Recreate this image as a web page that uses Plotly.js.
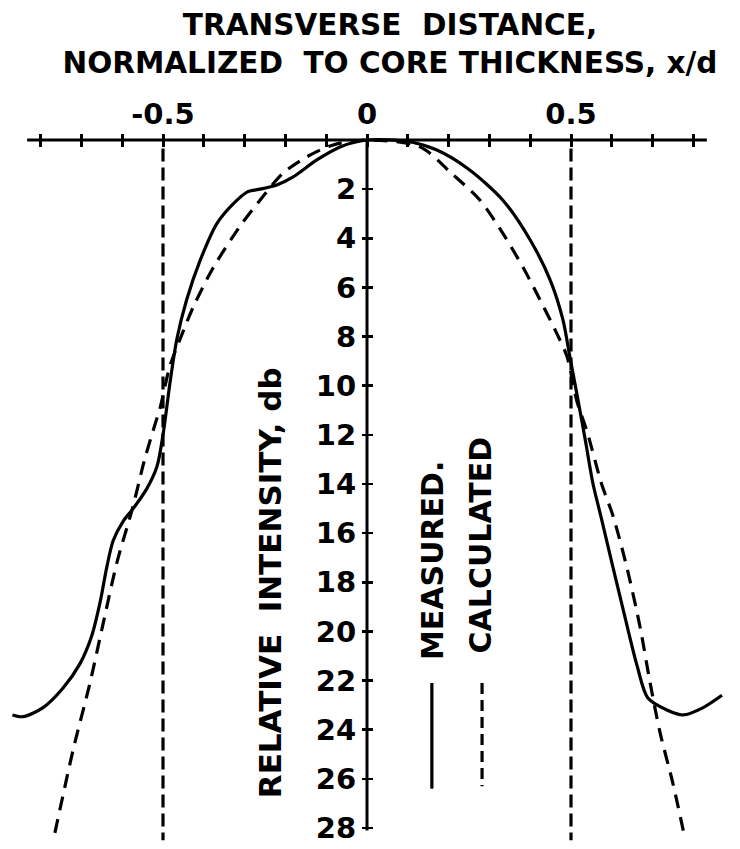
<!DOCTYPE html>
<html>
<head>
<meta charset="utf-8">
<script src="https://cdn.plot.ly/plotly-3.0.1.min.js"></script>
<style>html,body{margin:0;padding:0;background:#fff;}#chart{width:740px;height:849px;}</style>
</head>
<body>
<div id="chart"></div>
<script>
// ---- data (x/d, relative intensity in db) ----
const measuredX = [-0.869, -0.843, -0.794, -0.745, -0.703, -0.675, -0.654, -0.638, -0.622, -0.597, -0.573, -0.54, -0.515, -0.5, -0.483, -0.466, -0.442, -0.409, -0.368, -0.328, -0.292, -0.262, -0.221, -0.181, -0.123, -0.066, 0, 0.105, 0.17, 0.25, 0.333, 0.40, 0.449, 0.48, 0.497, 0.514, 0.536, 0.554, 0.573, 0.603, 0.632, 0.662, 0.688, 0.735, 0.775, 0.824, 0.87];
const measuredY = [23.4, 23.47, 23.1, 22.3, 21.3, 20.2, 18.8, 17.4, 16.3, 15.5, 15.0, 14.2, 13.3, 12.0, 9.9, 8.1, 6.5, 4.9, 3.4, 2.6, 2.1, 2.0, 1.83, 1.5, 0.81, 0.28, 0, 0.07, 0.4, 1.2, 2.45, 4.07, 5.7, 7.3, 8.8, 10.3, 12.3, 14.0, 15.3, 17.4, 19.4, 21.4, 22.7, 23.2, 23.4, 23.1, 22.6];
const calculatedX = [-0.765, -0.72, -0.679, -0.647, -0.613, -0.575, -0.545, -0.52, -0.507, -0.483, -0.458, -0.426, -0.377, -0.311, -0.255, -0.206, -0.147, -0.083, 0, 0.13, 0.21, 0.277, 0.333, 0.383, 0.424, 0.466, 0.49, 0.514, 0.54, 0.575, 0.603, 0.637, 0.669, 0.694, 0.718, 0.75, 0.779];
const calculatedY = [28.2, 24.8, 22.1, 19.7, 17.2, 15.0, 13.0, 11.6, 10.9, 9.2, 8.1, 6.8, 5.2, 3.5, 2.3, 1.35, 0.68, 0.2, 0, 0.28, 1.4, 2.45, 3.8, 5.2, 6.5, 7.9, 8.8, 10.6, 11.9, 14.0, 15.3, 17.4, 19.8, 22.1, 24.1, 26.2, 28.4];
const coreEdgesX = [-0.5, 0.5];
const coreEdgeSpanY = [0.35, 28.5];
const xTickValues = [-0.8, -0.7, -0.6, -0.5, -0.4, -0.3, -0.2, -0.1, 0, 0.1, 0.2, 0.3, 0.4, 0.5, 0.6, 0.7, 0.8];
const xTickLabels = ['', '', '', '-0.5', '', '', '', '', '0', '', '', '', '', '0.5', '', '', ''];
const yTickValues = [2, 4, 6, 8, 10, 12, 14, 16, 18, 20, 22, 24, 26, 28];
const yTickLabels = ['2', '4', '6', '8', '10', '12', '14', '16', '18', '20', '22', '24', '26', '28'];
const seriesNames = ['MEASURED.', 'CALCULATED'];

const INK = '#000';
const FONT = 'DejaVu Sans';

const traces = [
  {x: measuredX, y: measuredY, mode: 'lines', name: seriesNames[0],
   line: {color: INK, width: 3.2, shape: 'spline', smoothing: 0.8}, hoverinfo: 'skip'},
  {x: calculatedX, y: calculatedY, mode: 'lines', name: seriesNames[1],
   line: {color: INK, width: 3.2, shape: 'spline', smoothing: 0.8, dash: '14px,9px'}, hoverinfo: 'skip'}
];
coreEdgesX.forEach(function (cx) {
  traces.push({x: [cx, cx], y: coreEdgeSpanY, mode: 'lines', showlegend: false,
    line: {color: INK, width: 3.2, dash: '13px,6px'}, hoverinfo: 'skip'});
});
// invisible trace on the overlay axes so the crossing tick marks are drawn
traces.push({x: [0], y: [0], xaxis: 'x2', yaxis: 'y2', mode: 'markers', marker: {opacity: 0}, showlegend: false, hoverinfo: 'skip'});

const xRange = [-0.8995, 0.9142];
const yRange = [28.855, -5.698];
const xAxisPos = 1 - 140 / 849;
const yAxisPos = 367 / 740;

const tickFont = {family: FONT, size: 29, color: INK, weight: 'bold'};
const textFont = {family: FONT, size: 30, color: INK, weight: 'bold'};

const layout = {
  width: 740, height: 849,
  margin: {l: 0, r: 0, t: 0, b: 0, pad: 0},
  paper_bgcolor: '#fff', plot_bgcolor: '#fff',
  showlegend: false,
  title: {
    text: 'TRANSVERSE\u00a0\u00a0DISTANCE,<br>NORMALIZED\u00a0\u00a0TO CORE THICKNESS, x/d',
    font: {family: FONT, size: 29.5, color: INK, weight: 'bold'},
    x: 0.527, xanchor: 'center', xref: 'container',
    y: 0.959, yanchor: 'top', yref: 'container'
  },
  xaxis: {
    range: xRange, side: 'top', anchor: 'free', position: xAxisPos,
    showgrid: false, zeroline: false, showline: false,
    ticks: 'outside', ticklen: 6, tickwidth: 3, tickcolor: INK,
    tickmode: 'array', tickvals: xTickValues, ticktext: xTickLabels,
    tickfont: tickFont, ticklabelstandoff: -2, fixedrange: true
  },
  xaxis2: {
    range: xRange, matches: 'x', overlaying: 'x', side: 'top', anchor: 'free', position: xAxisPos,
    showgrid: false, zeroline: false, showline: false, showticklabels: false,
    ticks: 'inside', ticklen: 6, tickwidth: 3, tickcolor: INK,
    tickmode: 'array', tickvals: xTickValues
  },
  yaxis: {
    range: yRange, anchor: 'free', position: yAxisPos, side: 'left',
    showgrid: false, zeroline: false, showline: false,
    ticks: 'outside', ticklen: 5, tickwidth: 2.5, tickcolor: INK,
    tickmode: 'array', tickvals: yTickValues, ticktext: yTickLabels,
    tickfont: tickFont, ticklabelstandoff: 0, fixedrange: true
  },
  yaxis2: {
    range: yRange, matches: 'y', overlaying: 'y', anchor: 'free', position: yAxisPos, side: 'left',
    showgrid: false, zeroline: false, showline: false, showticklabels: false,
    ticks: 'inside', ticklen: 5, tickwidth: 2.5, tickcolor: INK,
    tickmode: 'array', tickvals: yTickValues
  },
  shapes: [
    {type: 'line', xref: 'x', yref: 'y', x0: -0.833, x1: 0.833, y0: 0, y1: 0, line: {color: INK, width: 3.2}},
    {type: 'line', xref: 'x', yref: 'y', x0: 0, x1: 0, y0: 0, y1: 28.1, line: {color: INK, width: 3}},
    {type: 'line', xref: 'x', yref: 'y', x0: 0.159, x1: 0.159, y0: 22.1, y1: 26.4, line: {color: INK, width: 3.2}},
    {type: 'line', xref: 'x', yref: 'y', x0: 0.282, x1: 0.282, y0: 22.1, y1: 26.3, line: {color: INK, width: 3.2, dash: '11px,6px'}}
  ],
  annotations: [
    {text: 'RELATIVE\u00a0\u00a0INTENSITY, db', xref: 'x', yref: 'y', x: -0.238, y: 18.0,
     textangle: -90, showarrow: false, xanchor: 'center', yanchor: 'middle',
     font: {family: FONT, size: 31, color: INK, weight: 'bold'}},
    {text: seriesNames[0], xref: 'x', yref: 'y', x: 0.159, y: 17.1,
     textangle: -90, showarrow: false, xanchor: 'center', yanchor: 'middle', font: textFont},
    {text: seriesNames[1], xref: 'x', yref: 'y', x: 0.277, y: 16.5,
     textangle: -90, showarrow: false, xanchor: 'center', yanchor: 'middle', font: textFont}
  ]
};

Plotly.newPlot('chart', traces, layout, {displayModeBar: false, staticPlot: true});
</script>
</body>
</html>
